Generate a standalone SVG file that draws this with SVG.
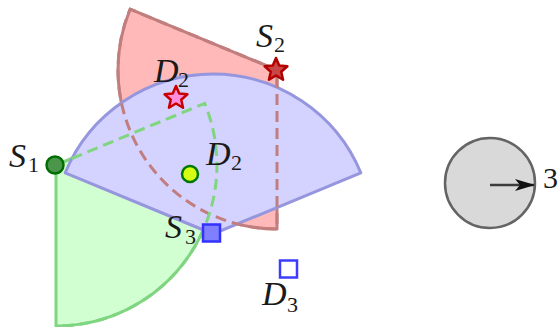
<svg xmlns="http://www.w3.org/2000/svg" width="559" height="327" viewBox="0 0 559 327">
<style>
.m{font-family:"Liberation Serif","DejaVu Serif",serif;font-style:italic;font-size:34px;fill:#1a1a1a}
.s{font-family:"Liberation Serif","DejaVu Serif",serif;font-style:normal;font-size:22px;fill:#1a1a1a}
.redf{fill:#ffb9b9;stroke:#c27e7e;stroke-width:3;stroke-linejoin:round}
.grnf{fill:#d2ffd2;stroke:#80d680;stroke-width:3;stroke-linejoin:round}
.bluf{fill:#d4d2ff;stroke:#9696de;stroke-width:3;stroke-linejoin:round}
.redd{fill:none;stroke:#c27e7e;stroke-width:3;stroke-dasharray:11 6}
.grnd{fill:none;stroke:#80d680;stroke-width:3;stroke-dasharray:11 6}
</style>
<defs>
<path id="star" d="M0,-12 L3.23,-4.45 L11.41,-3.71 L5.23,1.7 L7.05,9.71 L0,5.5 L-7.05,9.71 L-5.23,1.7 L-11.41,-3.71 L-3.23,-4.45 Z"/>
<marker id="ah" viewBox="0 0 20 12" refX="19" refY="6" markerWidth="20" markerHeight="12" markerUnits="userSpaceOnUse" orient="auto">
<path d="M0,0 L20,6 L0,12 L5,6 Z" fill="#111"/>
</marker>
</defs>
<g id="sectors">
<path id="sector-red" class="redf" d="M277,70 L130.1,9.2 A159 159 0 0 0 277,229 Z"/>
<path id="sector-green" class="grnf" d="M56,165 L204.7,103.4 A161 161 0 0 1 56,326 Z"/>
<path id="sector-blue" class="bluf" d="M213,234 L65.2,172.8 A160 160 0 0 1 360.8,172.8 Z"/>
<path class="redd" d="M277,70 L130.1,9.2 A159 159 0 0 0 277,229 Z"/>
<path class="grnd" d="M56,165 L204.7,103.4 A161 161 0 0 1 56,326"/>
</g>
<g id="connectors"></g>
<g id="S1">
<circle cx="55" cy="165" r="8.5" fill="#4b964b" stroke="#006e00" stroke-width="2.5"/>
<text class="m" x="9" y="167">S</text><text class="s" x="28" y="172">1</text>
</g>
<g id="D2-dot">
<circle cx="190" cy="174" r="8" fill="#d7ff14" stroke="#007800" stroke-width="2.5"/>
<text class="m" x="206" y="165">D</text><text class="s" x="231" y="170">2</text>
</g>
<g id="D2-star">
<use href="#star" transform="translate(176,98)" fill="#ff8cdc" stroke="#c80000" stroke-width="2.5" stroke-linejoin="round"/>
<text class="m" x="154" y="82">D</text><text class="s" x="178" y="87">2</text>
</g>
<g id="S2">
<use href="#star" transform="translate(276,70)" fill="#c84646" stroke="#b40000" stroke-width="2.5" stroke-linejoin="round"/>
<text class="m" x="256" y="47">S</text><text class="s" x="274" y="52">2</text>
</g>
<g id="S3">
<rect x="203" y="224.5" width="17" height="17" fill="#8080ff" stroke="#3232ff" stroke-width="2.5"/>
<text class="m" x="165" y="238">S</text><text class="s" x="185" y="244">3</text>
</g>
<g id="D3">
<rect x="280" y="260.5" width="17" height="17" fill="#fff" stroke="#3c3cff" stroke-width="2.5"/>
<text class="m" x="262" y="305">D</text><text class="s" x="287" y="312">3</text>
</g>
<g id="legend">
<circle cx="490" cy="183" r="45" fill="#d9d9d9" stroke="#646464" stroke-width="2.5"/>
<line x1="490" y1="185" x2="534" y2="185" stroke="#3c3c3c" stroke-width="2.5" marker-end="url(#ah)"/>
<text x="543" y="188" style="font-family:'Liberation Serif','DejaVu Serif',serif;font-size:30px;fill:#1a1a1a">3</text>
</g>
</svg>
